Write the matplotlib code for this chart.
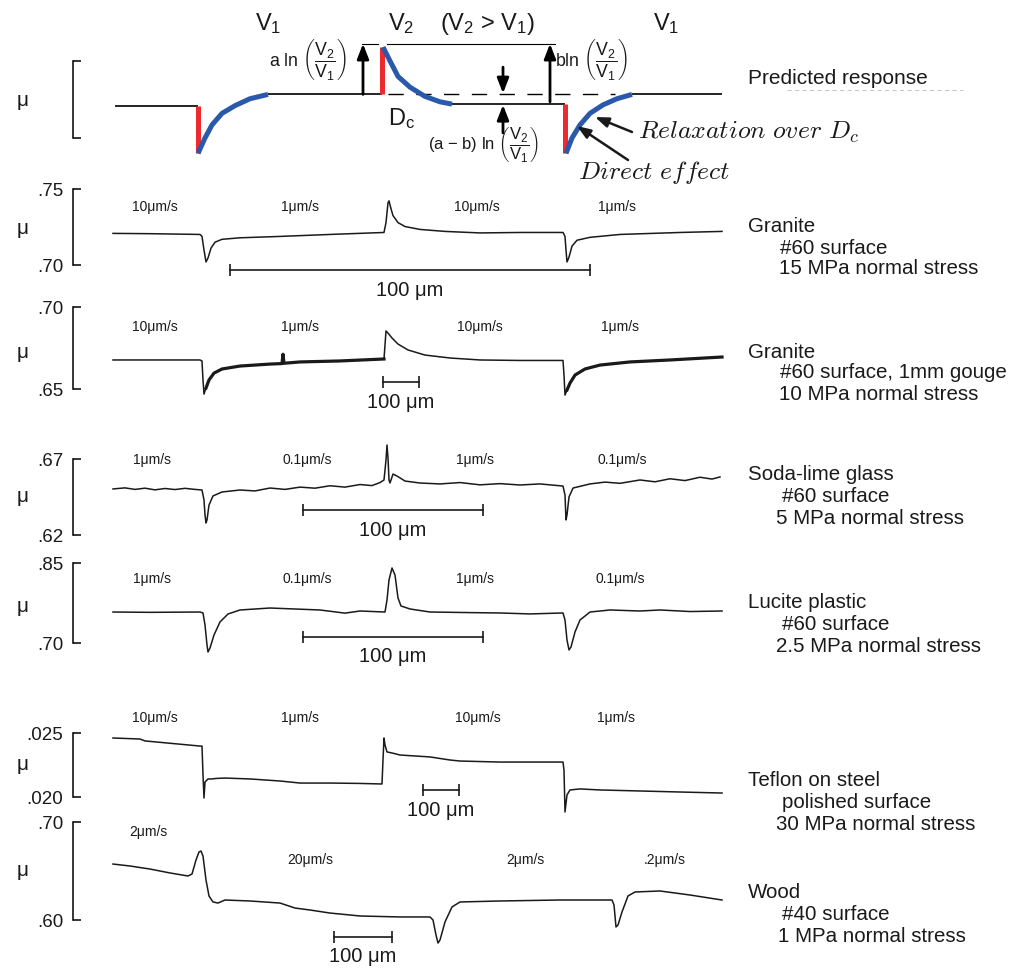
import matplotlib
matplotlib.use("Agg")
import matplotlib.pyplot as plt

plt.rcParams["font.family"] = ["Liberation Sans", "DejaVu Sans"]
plt.rcParams["mathtext.fontset"] = "custom"
plt.rcParams["mathtext.rm"] = "Liberation Sans"
plt.rcParams["mathtext.it"] = "Liberation Sans:italic"
plt.rcParams["mathtext.bf"] = "Liberation Sans:bold"

W, H = 1021, 971

# ---------------------------------------------------------------- data
# Predicted response (relative friction units, bracket spans 0..1)
pred_base_x = [[115, 198], [268, 382], [452, 565], [632, 722]]
pred_base_y = [0.42, 0.566, 0.44, 0.566]
pred_direct_x = [198, 382, 565]
pred_direct_y = [[0.42, -0.20], [0.566, 1.18], [0.44, -0.20]]
relax1_x = [198, 205, 212, 222, 235, 250, 268]
relax1_y = [-0.20, 0.00, 0.17, 0.32, 0.42, 0.51, 0.566]
relax2_x = [383, 390, 398, 410, 425, 440, 452]
relax2_y = [1.18, 1.00, 0.80, 0.66, 0.54, 0.47, 0.44]
relax3_x = [566, 572, 580, 590, 603, 617, 632]
relax3_y = [-0.20, 0.00, 0.17, 0.32, 0.43, 0.51, 0.566]
pred_peak_level = 1.224

# Granite, #60 surface, 15 MPa
granite_x = [113, 150, 200, 202, 204, 206, 208, 211, 215, 222, 240, 280, 330, 384,
             386, 388, 389, 391, 393, 398, 405, 420, 445, 480, 520, 563,
             565, 566, 567, 569, 572, 577, 590, 620, 680, 722]
granite_mu = [.7208, .7206, .7201, .7188, .7098, .7020, .7046, .7111, .7150, .7169,
              .7179, .7188, .7201, .7214, .7279, .7409, .7422, .7370, .7325, .7279,
              .7253, .7234, .7221, .7211, .7214, .7214, .7188, .7098, .7020, .7052,
              .7124, .7163, .7182, .7201, .7214, .7221]

# Granite, #60 surface + 1 mm gouge, 10 MPa
gouge_x = [113, 200, 202, 203, 204, 206, 209, 214, 222, 240, 270, 282, 283, 284, 300,
           340, 384, 385, 386, 388, 392, 398, 408, 425, 450, 480, 520, 563,
           564, 565, 567, 570, 575, 585, 600, 630, 670, 722]
gouge_mu = [.6677, .6677, .6671, .6555, .6469, .6506, .6555, .6597, .6622, .6640,
            .6652, .6655, .6712, .6657, .6665, .6671, .6683, .6768, .6854, .6841,
            .6811, .6774, .6738, .6707, .6689, .6677, .6674, .6674, .6585, .6463,
            .6494, .6536, .6585, .6622, .6646, .6665, .6677, .6695]
gouge_noisy = [[206, 384], [567, 722]]

# Soda-lime glass, #60 surface, 5 MPa
glass_x = [113, 125, 135, 145, 155, 165, 175, 185, 195, 202, 204, 205, 206, 207, 209,
           213, 222, 240, 255, 270, 285, 300, 315, 330, 345, 360, 372, 380, 384,
           386, 387, 388, 389, 390, 393, 397, 405, 420, 440, 460, 480, 500, 520,
           540, 563, 565, 566, 567, 569, 573, 590, 605, 620, 640, 655, 670, 685,
           700, 712, 720]
glass_mu = [.6503, .6510, .6500, .6508, .6497, .6506, .6499, .6507, .6500, .6496,
            .6430, .6332, .6279, .6299, .6397, .6457, .6483, .6496, .6490, .6509,
            .6500, .6515, .6508, .6524, .6515, .6532, .6525, .6545, .6562, .6693,
            .6792, .6707, .6562, .6542, .6601, .6588, .6555, .6542, .6536, .6545,
            .6530, .6538, .6529, .6536, .6522, .6463, .6299, .6332, .6450, .6509,
            .6536, .6548, .6540, .6562, .6550, .6570, .6558, .6580, .6568, .6582]

# Lucite plastic, #60 surface, 2.5 MPa
lucite_x = [113, 150, 200, 203, 205, 207, 208, 210, 214, 220, 228, 240, 270, 320, 345,
            360, 385, 387, 389, 392, 395, 398, 401, 410, 430, 470, 500, 530, 563,
            565, 567, 569, 571, 575, 580, 590, 610, 640, 660, 690, 722]
lucite_mu = [.7581, .7575, .7581, .7563, .7338, .6963, .6831, .6906, .7150, .7394,
             .7544, .7619, .7656, .7619, .7560, .7600, .7581, .7806, .8181, .8406,
             .8275, .7844, .7694, .7638, .7581, .7570, .7563, .7545, .7563, .7431,
             .7056, .6869, .6925, .7206, .7431, .7581, .7619, .7600, .7619, .7590,
             .7600]

# Teflon on steel, polished surface, 30 MPa
teflon_x = [113, 140, 145, 200, 202, 203, 204, 205, 208, 212, 216, 225, 250, 280, 300,
            330, 360, 380, 382, 383, 384, 385, 387, 392, 400, 430, 450, 460, 500,
            563, 564, 565, 567, 570, 580, 600, 640, 680, 722]
teflon_mu = [.02461, .02453, .02438, .02398, .02398, .02172, .01992, .02117, .02141,
             .02141, .02145, .02148, .02141, .02125, .02109, .02109, .02106, .02102,
             .02102, .02289, .02461, .02406, .02352, .02344, .02328, .02313, .02289,
             .02281, .02273, .02273, .02210, .01883, .02016, .02055, .02063, .02055,
             .02047, .02039, .02031]

# Wood, #40 surface, 1 MPa
wood_x = [113, 130, 150, 170, 188, 192, 196, 199, 201, 203, 206, 209, 213, 218, 225,
          250, 280, 295, 310, 330, 360, 400, 430, 433, 436, 438, 440, 445, 452, 460,
          500, 560, 612, 614, 616, 618, 622, 628, 635, 660, 690, 722]
wood_mu = [.6571, .6551, .6520, .6480, .6449, .6469, .6612, .6694, .6704, .6653,
           .6408, .6245, .6184, .6173, .6204, .6194, .6173, .6122, .6102, .6071,
           .6041, .6031, .6031, .6000, .5847, .5765, .5796, .5980, .6133, .6184,
           .6194, .6204, .6204, .6153, .5929, .5949, .6082, .6245, .6286, .6296,
           .6255, .6204]

# Axis bracket values (bottom, top) for each experimental record
bracket_vals = [(.70, .75), (.65, .70), (.62, .67), (.70, .85), (.020, .025), (.60, .70)]
bracket_fmt = ["{:.2f}", "{:.2f}", "{:.2f}", "{:.2f}", "{:.3f}", "{:.2f}"]

speed_labels = [
    ["10\u03bcm/s", "1\u03bcm/s", "10\u03bcm/s", "1\u03bcm/s"],
    ["10\u03bcm/s", "1\u03bcm/s", "10\u03bcm/s", "1\u03bcm/s"],
    ["1\u03bcm/s", "0.1\u03bcm/s", "1\u03bcm/s", "0.1\u03bcm/s"],
    ["1\u03bcm/s", "0.1\u03bcm/s", "1\u03bcm/s", "0.1\u03bcm/s"],
    ["10\u03bcm/s", "1\u03bcm/s", "10\u03bcm/s", "1\u03bcm/s"],
    ["2\u03bcm/s", "20\u03bcm/s", "2\u03bcm/s", ".2\u03bcm/s"],
]
sample_labels = [
    ["Granite", "#60 surface", "15 MPa normal stress"],
    ["Granite", "#60 surface, 1mm gouge", "10 MPa normal stress"],
    ["Soda-lime glass", "#60 surface", "5 MPa normal stress"],
    ["Lucite plastic", "#60 surface", "2.5 MPa normal stress"],
    ["Teflon on steel", "polished surface", "30 MPa normal stress"],
    ["Wood", "#40 surface", "1 MPa normal stress"],
]
# 100 um scale bar: start and length along the record
scale_start = [230, 383, 303, 303, 423, 334]
scale_len = [360, 36, 180, 180, 36, 58]

traces_x = [granite_x, gouge_x, glass_x, lucite_x, teflon_x, wood_x]
traces_mu = [granite_mu, gouge_mu, glass_mu, lucite_mu, teflon_mu, wood_mu]

# ---------------------------------------------------------------- layout (pixels)
bracket_px = [(189, 265), (307, 389), (459, 535), (563, 643), (733, 797), (822, 920)]
speed_px_y = [207, 327, 460, 579, 718, None]
speed_px_x = [[155, 300, 477, 617], [155, 300, 480, 620], [152, 307, 475, 622],
              [152, 307, 475, 620], [155, 300, 478, 616], [148, 310, 525, 665]]
wood_speed_y = [832, 860, 860, 860]
scale_px_y = [270, 382, 510, 637, 790, 937]
label_px_y = [[226, 248, 269], [352, 373, 395], [475, 496, 518],
              [603, 625, 646], [781, 803, 825], [893, 915, 937]]
label_px_x = [[748, 780, 779], [748, 780, 779], [748, 782, 776],
              [748, 782, 776], [748, 782, 776], [748, 782, 778]]
mu_px_y = [228, 353, 497, 607, 765, 870]
pred_bracket_px = (61, 138)

fig = plt.figure(figsize=(W / 100, H / 100), dpi=100)
fig.patch.set_facecolor("white")


def band_axes(ytop, ybot, vbot, vtop):
    ax = fig.add_axes([0, 1 - ybot / H, 1, (ybot - ytop) / H])
    ax.set_xlim(0, W)
    ax.set_ylim(vbot, vtop)
    ax.patch.set_alpha(0)
    for s in ("top", "right", "bottom"):
        ax.spines[s].set_visible(False)
    ax.spines["left"].set_position(("data", 73))
    ax.spines["left"].set_linewidth(1.1)
    ax.set_xticks([])
    ax.tick_params(axis="y", direction="in", length=6, width=1.1, pad=7,
                   labelsize=13.5, labelcolor="#1a1a1a")
    return ax


def to_val(ypx, ytop, ybot, vbot, vtop):
    return vbot + (ybot - ypx) / (ybot - ytop) * (vtop - vbot)


# ---------------------------------------------------------------- predicted response
pax = band_axes(pred_bracket_px[0], pred_bracket_px[1], 0, 1)
pax.set_yticks([0, 1])
pax.set_yticklabels([])
kw = dict(color="black", lw=1.2, clip_on=False, solid_capstyle="butt")
for xs, yv in zip(pred_base_x, pred_base_y):
    pax.plot(xs, [yv, yv], **kw)
red = "#ec2a2f"
blue = "#2a58ab"
for xv, ys in zip(pred_direct_x, pred_direct_y):
    pax.plot([xv, xv], ys, color=red, lw=3.6, clip_on=False, solid_capstyle="butt", zorder=3)
for rx, ry in [(relax1_x, relax1_y), (relax2_x, relax2_y), (relax3_x, relax3_y)]:
    pax.plot(rx, ry, color=blue, lw=3.6, clip_on=False, solid_capstyle="butt", zorder=4)
# reference levels
pax.plot([387, 555], [pred_peak_level, pred_peak_level], color="black", lw=0.8, clip_on=False)
pax.plot([362, 378], [pred_peak_level, pred_peak_level], color="black", lw=0.8, clip_on=False)
pax.plot([388, 615], [pred_base_y[1], pred_base_y[1]], color="black", lw=1.0,
         dashes=(11, 9), clip_on=False)
ak = dict(arrowstyle="-|>,head_length=0.9,head_width=0.35", color="black", lw=2.0,
          shrinkA=0, shrinkB=0)
pax.annotate("", xy=(363, pred_peak_level), xytext=(363, pred_base_y[1]), arrowprops=ak,
             annotation_clip=False)
pax.annotate("", xy=(550, pred_peak_level), xytext=(550, 0.47), arrowprops=ak,
             annotation_clip=False)
pax.annotate("", xy=(503, 0.58), xytext=(503, 0.92), arrowprops=ak, annotation_clip=False)
pax.annotate("", xy=(503, 0.43), xytext=(503, 0.066), arrowprops=ak, annotation_clip=False)

# ---------------------------------------------------------------- experimental records
for i in range(6):
    ytop, ybot = bracket_px[i]
    vbot, vtop = bracket_vals[i]
    ax = band_axes(ytop, ybot, vbot, vtop)
    ax.set_yticks([vbot, vtop])
    ax.set_yticklabels([bracket_fmt[i].format(v)[1:] for v in (vbot, vtop)])
    xs, ms = traces_x[i], traces_mu[i]
    ax.plot(xs, ms, color="#1a1a1a", lw=1.1, clip_on=False)
    if i == 1:
        for a, b in gouge_noisy:
            seg = [(x, m) for x, m in zip(xs, ms) if a <= x <= b]
            ax.plot([p[0] for p in seg], [p[1] for p in seg], color="#1a1a1a", lw=2.3,
                    clip_on=False)
    # scale bar
    yb = to_val(scale_px_y[i], ytop, ybot, vbot, vtop)
    ax.plot([scale_start[i], scale_start[i] + scale_len[i]], [yb, yb], color="#1a1a1a",
            lw=1.2, marker="|", markersize=9, markeredgewidth=1.2, clip_on=False)

# ---------------------------------------------------------------- text overlay (pixels)
ov = fig.add_axes([0, 0, 1, 1])
ov.set_xlim(0, W)
ov.set_ylim(H, 0)
ov.axis("off")

txt = dict(color="#1a1a1a", va="center", ha="left")
ov.text(17, 100, "\u03bc", fontsize=15, **txt)
for i in range(6):
    ov.text(17, mu_px_y[i], "\u03bc", fontsize=15, **txt)
    for j, s in enumerate(speed_labels[i]):
        yy = speed_px_y[i] if speed_px_y[i] is not None else wood_speed_y[j]
        ov.text(speed_px_x[i][j], yy, s, fontsize=10, ha="center", va="center",
                color="#1a1a1a")
    xc = scale_start[i] + scale_len[i] / 2
    ov.text(xc, scale_px_y[i] + 20, "100 \u03bcm", fontsize=14.5, ha="center",
            va="center", color="#1a1a1a")
    for j, s in enumerate(sample_labels[i]):
        ov.text(label_px_x[i][j], label_px_y[i][j], s, fontsize=14.8, **txt)

# predicted response annotations
big = 17
ov.text(255, 24, r"V$_1$", fontsize=big, **txt)
ov.text(388, 24, r"V$_2$", fontsize=big, **txt)
ov.text(440, 24, r"(V$_2$ > V$_1$)", fontsize=big, **txt)
ov.text(653, 24, r"V$_1$", fontsize=big, **txt)
ov.text(388, 119, r"D$_{\rm c}$", fontsize=big, **txt)
frac = r"$\left(\dfrac{\mathrm{V}_2}{\mathrm{V}_1}\right)$"
ov.text(269, 60, "a ln " + frac, fontsize=12.8, **txt)
ov.text(555, 60, "bln " + frac, fontsize=12.8, **txt)
ov.text(428, 145, "(a \u2212 b) ln " + frac, fontsize=12, **txt)
ov.text(748, 78, "Predicted response", fontsize=15, **txt)
ov.plot([787, 963], [90, 90], color="#bbbbbb", lw=0.6, dashes=(5, 4))
ov.text(638, 132, r"$Relaxation\ over\ D_c$", fontsize=18.5, math_fontfamily="cm", **txt)
ov.text(578, 172, r"$Direct\ effect$", fontsize=18.5, math_fontfamily="cm", **txt)
ak2 = dict(arrowstyle="-|>,head_length=0.8,head_width=0.3", color="#1a1a1a", lw=1.8,
           shrinkA=0, shrinkB=0)
ov.annotate("", xy=(595, 117), xytext=(632, 132), arrowprops=ak2)
ov.annotate("", xy=(577, 126), xytext=(628, 160), arrowprops=ak2)

fig.savefig("out.png", dpi=100, facecolor="white")
